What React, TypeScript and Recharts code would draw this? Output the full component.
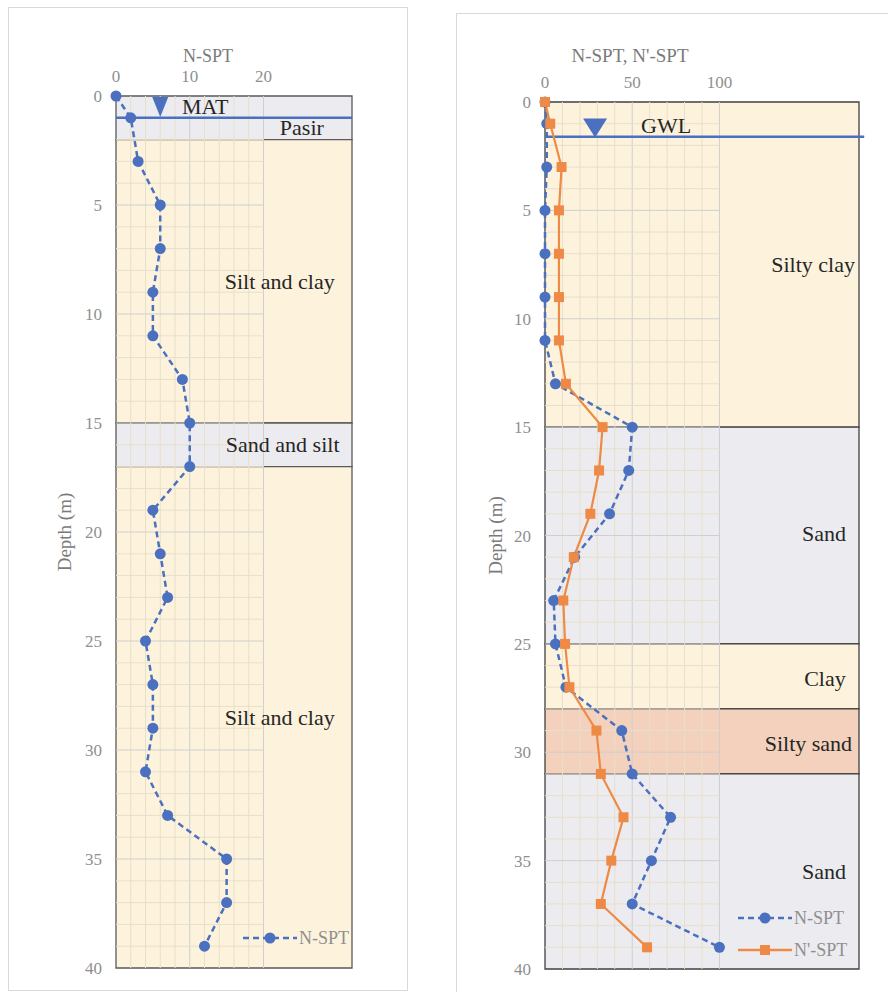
import React from 'react';
import { LineChart, Line, XAxis, YAxis, ReferenceArea, ReferenceLine, ReferenceDot, Legend } from 'recharts';

// depth of each SPT test (m)
const depths = [0, 1, 3, 5, 7, 9, 11, 13, 15, 17, 19, 21, 23, 25, 27, 29, 31, 33, 35, 37, 39];
// left borehole
const nsptLeft = [0, 2, 3, 6, 6, 5, 5, 9, 10, 10, 5, 6, 7, 4, 5, 5, 4, 7, 15, 15, 12];
// right borehole
const nsptRight = [0, 1, 1, 0, 0, 0, 0, 6, 50, 48, 37, 17, 5, 6, 12, 44, 50, 72, 61, 50, 100];
const ncRight = [0, 3, 9.5, 8, 8, 8, 8, 12, 33, 31, 26, 16.5, 10.5, 11.5, 14, 29.5, 32, 45, 38, 32, 58.5];

const depthTicks = [0, 5, 10, 15, 20, 25, 30, 35, 40];
const leftTicks = [0, 10, 20];
const rightTicks = [0, 50, 100];

const leftLayerTops = [0, 2, 15, 17];
const leftLayerBottoms = [2, 15, 17, 40];
const leftLayerSoil = ['sand', 'clay', 'sand', 'clay'];
const leftWater = 1;

const rightLayerTops = [0, 15, 25, 28, 31];
const rightLayerBottoms = [15, 25, 28, 31, 40];
const rightLayerSoil = ['clay', 'sand', 'clay', 'siltysand', 'sand'];
const rightWater = 1.6;

const soilFill: Record<string, string> = {
  clay: '#fdf3dc',
  sand: '#ececf0',
  siltysand: '#f3d1bd',
};

const BLUE = '#4a70bf';
const ORANGE = '#ee8a45';
const FONT = "'Liberation Serif', 'Times New Roman', Tinos, serif";
const TICK = { fill: '#8f8f8f', fontSize: 17, fontFamily: FONT };

const leftData = depths.map((d, i) => ({ depth: d, n: nsptLeft[i] }));
const rightData = depths.map((d, i) => ({ depth: d, n: nsptRight[i], nc: ncRight[i] }));

const range = (from: number, to: number, step: number) => {
  const out: number[] = [];
  for (let v = from; v <= to; v += step) out.push(v);
  return out;
};

const gridLines = (xMax: number, xStep: number, xMajor: number) => {
  const lines: React.ReactNode[] = [];
  range(xStep, xMax, xStep).forEach((x) => {
    lines.push(
      <ReferenceLine key={'gx' + x} segment={[{ x, y: 0 }, { x, y: 40 }]}
        stroke={x % xMajor === 0 ? '#cfcfcf' : '#e8dfca'} strokeWidth={1} />
    );
  });
  range(1, 39, 1).forEach((y) => {
    lines.push(
      <ReferenceLine key={'gy' + y} segment={[{ x: 0, y }, { x: xMax, y }]}
        stroke={y % 5 === 0 ? '#cfcfcf' : '#e8dfca'} strokeWidth={1} />
    );
  });
  return lines;
};

const textDot = (key: string, x: number, y: number, value: string) => (
  <ReferenceDot key={key} x={x} y={y} r={0}
    shape={(p: any) => (
      <text x={p.cx} y={p.cy} textAnchor="middle" dominantBaseline="central"
        style={{ fontFamily: FONT, fontSize: 22 }} fill="#262626">{value}</text>
    )} />
);

const triangleDot = (x: number, y: number, w: number, h: number) => (
  <ReferenceDot x={x} y={y} r={0}
    shape={(p: any) => (
      <polygon points={`${p.cx - w / 2},${p.cy - h / 2} ${p.cx + w / 2},${p.cy - h / 2} ${p.cx},${p.cy + h / 2}`} fill={BLUE} />
    )} />
);

const square = (props: any) => {
  const { cx, cy, index } = props;
  return <rect key={'sq' + index} x={cx - 5} y={cy - 5} width={10} height={10} fill={ORANGE} />;
};

const legendContent = (items: { label: string; color: string; dashed: boolean; marker: string }[]) => () => (
  <svg width={130} height={items.length * 32}>
    {items.map((it, i) => (
      <g key={it.label} transform={`translate(0, ${i * 32 + 12})`}>
        <line x1={2} x2={56} y1={0} y2={0} stroke={it.color} strokeWidth={2.5}
          strokeDasharray={it.dashed ? '6 4' : undefined} />
        {it.marker === 'circle'
          ? <circle cx={29} cy={0} r={5.5} fill={it.color} />
          : <rect x={24} y={-5} width={10} height={10} fill={it.color} />}
        <text x={58} y={0} dominantBaseline="central" style={{ fontFamily: FONT, fontSize: 18 }} fill="#8f8f8f">{it.label}</text>
      </g>
    ))}
  </svg>
);

export default function App() {
  return (
    <div style={{ position: 'absolute', left: 0, top: 0, width: 888, height: 992, background: '#fff', overflow: 'hidden', fontFamily: FONT }}>
      <div style={{ position: 'absolute', left: 8, top: 7, width: 398, height: 982, border: '1px solid #d9d9d9' }} />
      <div style={{ position: 'absolute', left: 456, top: 13, width: 440, height: 990, border: '1px solid #d9d9d9' }} />

      <div style={{ position: 'absolute', left: 0, top: 0 }}>
        <LineChart layout="vertical" width={406} height={990} data={leftData}
          margin={{ top: 66, right: 54, bottom: 22, left: 56 }} style={{ fontFamily: FONT }}>
          <XAxis type="number" orientation="top" domain={[0, 32]} ticks={leftTicks} height={30}
            axisLine={false} tickLine={false} tickMargin={8} tick={TICK}
            label={{ value: 'N-SPT', position: 'top', offset: 4, dx: -26, fill: '#7a7a7a', fontSize: 18, fontFamily: FONT }} />
          <YAxis type="number" dataKey="depth" domain={[0, 40]} ticks={depthTicks} width={60}
            axisLine={false} tickLine={false} tickMargin={8} tick={TICK}
            label={{ value: 'Depth (m)', angle: -90, position: 'insideLeft', offset: 8, fill: '#7a7a7a', fontSize: 19, fontFamily: FONT, style: { textAnchor: 'middle' } }} />
          {leftLayerTops.map((t, i) => (
            <ReferenceArea key={'la' + i} x1={0} x2={32} y1={t} y2={leftLayerBottoms[i]}
              fill={soilFill[leftLayerSoil[i]]} fillOpacity={1} stroke="#5a5a5a" strokeWidth={1.3} />
          ))}
          {gridLines(20, 2, 10)}
          <ReferenceLine segment={[{ x: 0, y: leftWater }, { x: 32, y: leftWater }]} stroke={BLUE} strokeWidth={2.5} />
          {triangleDot(6, 0.5, 16, 20)}
          {textDot('t1', 12.1, 0.5, 'MAT')}
          {textDot('t2', 25.2, 1.45, 'Pasir')}
          {textDot('t3', 22.2, 8.5, 'Silt and clay')}
          {textDot('t4', 22.6, 16, 'Sand and silt')}
          {textDot('t5', 22.2, 28.5, 'Silt and clay')}
          <Line dataKey="n" name="N-SPT" stroke={BLUE} strokeWidth={2.5} strokeDasharray="6 4"
            dot={{ r: 5.5, fill: BLUE, stroke: BLUE, strokeWidth: 0 }} isAnimationActive={false} />
          <Legend layout="vertical" align="center" verticalAlign="middle"
            content={legendContent([{ label: 'N-SPT', color: BLUE, dashed: true, marker: 'circle' }])}
            wrapperStyle={{ position: 'absolute', left: 241, top: 926, width: 130 }} />
        </LineChart>
      </div>

      <div style={{ position: 'absolute', left: 440, top: 0 }}>
        <LineChart layout="vertical" width={448} height={992} data={rightData}
          margin={{ top: 72, right: 29, bottom: 23, left: 45 }} style={{ fontFamily: FONT }}>
          <XAxis type="number" orientation="top" domain={[0, 180]} ticks={rightTicks} height={30}
            axisLine={false} tickLine={false} tickMargin={8} tick={TICK}
            label={{ value: "N-SPT, N'-SPT", position: 'top', offset: 10, dx: -72, fill: '#7a7a7a', fontSize: 19, fontFamily: FONT }} />
          <YAxis type="number" dataKey="depth" domain={[0, 40]} ticks={depthTicks} width={60}
            axisLine={false} tickLine={false} tickMargin={8} tick={TICK}
            label={{ value: 'Depth (m)', angle: -90, position: 'insideLeft', offset: 10, fill: '#7a7a7a', fontSize: 19, fontFamily: FONT, style: { textAnchor: 'middle' } }} />
          {rightLayerTops.map((t, i) => (
            <ReferenceArea key={'ra' + i} x1={0} x2={180} y1={t} y2={rightLayerBottoms[i]}
              fill={soilFill[rightLayerSoil[i]]} fillOpacity={1} stroke="#404040" strokeWidth={1.3} />
          ))}
          {gridLines(100, 10, 50)}
          <ReferenceLine segment={[{ x: 0, y: rightWater }, { x: 183, y: rightWater }]} stroke={BLUE} strokeWidth={2.5} ifOverflow="visible" />
          {triangleDot(28.7, 1.2, 24, 19)}
          {textDot('r1', 69.4, 1.1, 'GWL')}
          {textDot('r2', 153.7, 7.5, 'Silty clay')}
          {textDot('r3', 160, 19.9, 'Sand')}
          {textDot('r4', 160.5, 26.6, 'Clay')}
          {textDot('r5', 151, 29.6, 'Silty sand')}
          {textDot('r6', 160, 35.5, 'Sand')}
          <Line dataKey="n" name="N-SPT" stroke={BLUE} strokeWidth={2.5} strokeDasharray="6 4"
            dot={{ r: 5.5, fill: BLUE, stroke: BLUE, strokeWidth: 0 }} isAnimationActive={false} />
          <Line dataKey="nc" name="N'-SPT" stroke={ORANGE} strokeWidth={2.2}
            dot={square} isAnimationActive={false} />
          <Legend layout="vertical" align="center" verticalAlign="middle"
            content={legendContent([
              { label: 'N-SPT', color: BLUE, dashed: true, marker: 'circle' },
              { label: "N'-SPT", color: ORANGE, dashed: false, marker: 'square' },
            ])} wrapperStyle={{ position: 'absolute', left: 296, top: 906, width: 130 }} />
        </LineChart>
      </div>
    </div>
  );
}
